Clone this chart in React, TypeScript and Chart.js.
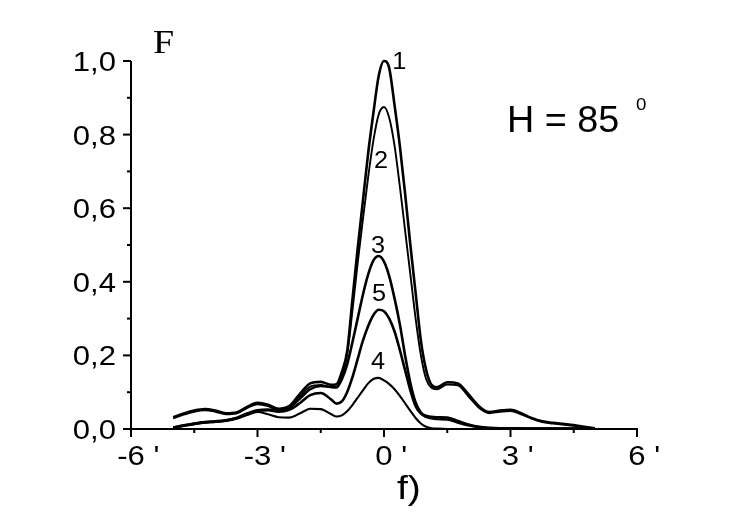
import React, { useEffect, useRef } from "react";
import { Chart, registerables } from "chart.js";

Chart.register(...registerables);

// Shared abscissa (arc-minutes)
const xValues = [
  -5, -4.75, -4.5, -4.25, -4, -3.75, -3.5, -3.25, -3, -2.75, -2.5, -2.25, -2, -1.75, -1.5,
  -1.25, -1.125, -1, -0.875, -0.75, -0.625, -0.5, -0.375, -0.25, -0.125, 0, 0.125, 0.25,
  0.375, 0.5, 0.625, 0.75, 0.875, 1, 1.125, 1.25,
  1.5, 1.75, 2, 2.25, 2.5, 2.75, 3, 3.25, 3.5, 3.75, 4, 4.25, 4.5, 4.75, 5,
];

const curve1 = [
  0.032, 0.042, 0.05, 0.054, 0.05, 0.043, 0.045, 0.06, 0.071, 0.066, 0.055, 0.062, 0.095, 0.124, 0.128,
  0.12, 0.122, 0.155, 0.21, 0.35, 0.49, 0.62, 0.75, 0.86, 0.96, 1.0, 0.98, 0.88,
  0.77, 0.64, 0.5, 0.37, 0.24, 0.16, 0.12, 0.113,
  0.127, 0.124, 0.095, 0.062, 0.046, 0.05, 0.052, 0.043, 0.03, 0.021, 0.017, 0.014, 0.011, 0.006, 0.002,
];

const curve2 = [
  0.029, 0.039, 0.047, 0.051, 0.047, 0.04, 0.042, 0.057, 0.067, 0.062, 0.051, 0.057, 0.088, 0.115, 0.12,
  0.113, 0.115, 0.145, 0.2, 0.32, 0.45, 0.57, 0.685, 0.785, 0.855, 0.875, 0.845, 0.77,
  0.66, 0.54, 0.42, 0.3, 0.2, 0.135, 0.112, 0.108,
  0.121, 0.119, 0.089, 0.058, 0.043, 0.047, 0.049, 0.04, 0.028, 0.019, 0.015, 0.012, 0.009, 0.005, 0.002,
];

const curve3 = [
  0.004, 0.01, 0.015, 0.019, 0.021, 0.024, 0.03, 0.042, 0.051, 0.053, 0.05, 0.058, 0.082, 0.108, 0.117,
  0.114, 0.113, 0.135, 0.175, 0.235, 0.3, 0.365, 0.42, 0.458, 0.47, 0.455, 0.415, 0.355,
  0.285, 0.2, 0.125, 0.072, 0.045, 0.036, 0.033, 0.032,
  0.031, 0.022, 0.012, 0.006, 0.003, 0.002, 0.002, 0.002, 0.001, 0.001, 0.001, 0.001, 0.001, 0.001, 0.001,
];

const curve4 = [
  0.003, 0.008, 0.013, 0.017, 0.019, 0.022, 0.028, 0.038, 0.046, 0.04, 0.032, 0.031, 0.042, 0.055, 0.054,
  0.04, 0.034, 0.037, 0.048, 0.065, 0.085, 0.105, 0.124, 0.136, 0.139, 0.132, 0.122, 0.108,
  0.09, 0.07, 0.049, 0.03, 0.015, 0.006, 0.002, 0.001,
  0, 0, 0, 0, 0, 0, 0, 0, 0, 0, 0, 0, 0, 0, 0,
];

const curve5 = [
  0.004, 0.009, 0.014, 0.018, 0.02, 0.023, 0.029, 0.04, 0.05, 0.051, 0.047, 0.052, 0.07, 0.092, 0.098,
  0.08, 0.069, 0.075, 0.1, 0.14, 0.19, 0.24, 0.28, 0.31, 0.324, 0.32, 0.3, 0.265,
  0.215, 0.16, 0.105, 0.062, 0.042, 0.033, 0.029, 0.027,
  0.026, 0.018, 0.01, 0.005, 0.002, 0.002, 0.001, 0.001, 0.001, 0.001, 0.001, 0.001, 0.001, 0.001, 0.001,
];

const seriesNames = ["1", "2", "3", "4", "5"];
const seriesValues = [curve1, curve2, curve3, curve4, curve5];
const seriesWidths = [2.6, 1.9, 2.6, 2.1, 2.6];

// curve number labels (data coordinates)
const curveLabels = [
  { text: "1", x: 0.36, y: 1.0 },
  { text: "2", x: -0.07, y: 0.73 },
  { text: "3", x: -0.14, y: 0.5 },
  { text: "5", x: -0.12, y: 0.37 },
  { text: "4", x: -0.14, y: 0.185 },
];

const SANS = '"Liberation Sans", Arial, sans-serif';
const SERIF = '"Liberation Serif", "Times New Roman", serif';

function stretchedText(
  ctx: CanvasRenderingContext2D,
  text: string,
  x: number,
  y: number,
  font: string,
  align: "left" | "right" | "center",
  sx: number
) {
  ctx.save();
  ctx.font = font;
  const w = ctx.measureText(text).width * sx;
  let left = x;
  if (align === "right") left = x - w;
  else if (align === "center") left = x - w / 2;
  ctx.translate(left, y);
  ctx.scale(sx, 1);
  ctx.textAlign = "left";
  ctx.textBaseline = "alphabetic";
  ctx.fillText(text, 0, 0);
  ctx.restore();
}

const axesPlugin = {
  id: "originAxes",
  afterDraw(chart: any) {
    const ctx: CanvasRenderingContext2D = chart.ctx;
    const xs = chart.scales.x;
    const ys = chart.scales.y;
    const area = chart.chartArea;
    ctx.save();
    ctx.strokeStyle = "#000";
    ctx.fillStyle = "#000";
    ctx.lineWidth = 2;
    ctx.lineCap = "butt";
    // axis lines
    ctx.beginPath();
    ctx.moveTo(area.left, area.top);
    ctx.lineTo(area.left, area.bottom + 1);
    ctx.moveTo(area.left - 1, area.bottom);
    ctx.lineTo(area.right + 1, area.bottom);
    ctx.stroke();

    const tickFont = `27px ${SANS}`;
    // y ticks
    ys.ticks.forEach((t: any) => {
      const k = Math.round(t.value * 10);
      const py = ys.getPixelForValue(t.value);
      const major = k % 2 === 0;
      ctx.beginPath();
      ctx.moveTo(area.left, py);
      ctx.lineTo(area.left - (major ? 8 : 4), py);
      ctx.stroke();
      if (major) {
        const label = (k / 10).toFixed(1).replace(".", ",");
        stretchedText(ctx, label, area.left - 15, py + 10, tickFont, "right", 1.15);
      }
    });
    // x ticks
    xs.ticks.forEach((t: any) => {
      const k = Math.round(t.value * 2);
      const px = xs.getPixelForValue(t.value);
      const major = k % 2 === 0;
      ctx.beginPath();
      ctx.moveTo(px, area.bottom);
      ctx.lineTo(px, area.bottom + (major ? 8 : 4));
      ctx.stroke();
      if (major) {
        const num = String(Math.round(t.value));
        ctx.font = tickFont;
        const w = ctx.measureText(num).width * 1.15;
        stretchedText(ctx, num + " '", px - w / 2, 465, tickFont, "left", 1.15);
      }
    });

    // curve numbers
    curveLabels.forEach((l) => {
      const px = xs.getPixelForValue(l.x);
      const py = ys.getPixelForValue(l.y);
      stretchedText(ctx, l.text, px, py + 8, `23px ${SANS}`, "center", 1.1);
    });

    // axis titles and annotations
    stretchedText(ctx, "F", 153, 53, `33px ${SERIF}`, "left", 1.15);
    stretchedText(ctx, "f)", 397, 499, `34px ${SANS}`, "left", 1.15);
    stretchedText(ctx, "H = 85", 507, 132, `37px ${SANS}`, "left", 1.02);
    stretchedText(ctx, "0", 636, 110, `17px ${SANS}`, "left", 1.1);
    ctx.restore();
  },
};

export default function App() {
  const canvasRef = useRef<HTMLCanvasElement | null>(null);

  useEffect(() => {
    const canvas = canvasRef.current;
    if (!canvas) return;
    const datasets = seriesValues.map((vals, i) => ({
      label: seriesNames[i],
      data: xValues.map((x, j) => ({ x, y: vals[j] })),
      borderColor: "#000",
      borderWidth: seriesWidths[i],
      pointRadius: 0,
      fill: false,
      cubicInterpolationMode: "monotone" as const,
      clip: false as any,
    }));
    const chart = new Chart(canvas, {
      type: "line",
      data: { datasets },
      options: {
        responsive: false,
        animation: false,
        devicePixelRatio: 1,
        layout: { padding: { top: 61, right: 103, left: 0, bottom: 0 } },
        plugins: { legend: { display: false }, tooltip: { enabled: false } },
        scales: {
          x: {
            type: "linear",
            min: -6,
            max: 6,
            ticks: { stepSize: 1.5, display: false },
            grid: { display: false },
            border: { display: false },
            afterFit: (s: any) => {
              s.height = 86;
            },
          },
          y: {
            type: "linear",
            min: 0,
            max: 1,
            ticks: { stepSize: 0.1, display: false },
            grid: { display: false },
            border: { display: false },
            afterFit: (s: any) => {
              s.width = 131;
            },
          },
        },
      },
      plugins: [axesPlugin],
    });
    return () => chart.destroy();
  }, []);

  return (
    <div style={{ position: "absolute", left: 0, top: 0, width: 740, height: 515, background: "#fff" }}>
      <canvas ref={canvasRef} width={740} height={515} style={{ display: "block" }} />
    </div>
  );
}
